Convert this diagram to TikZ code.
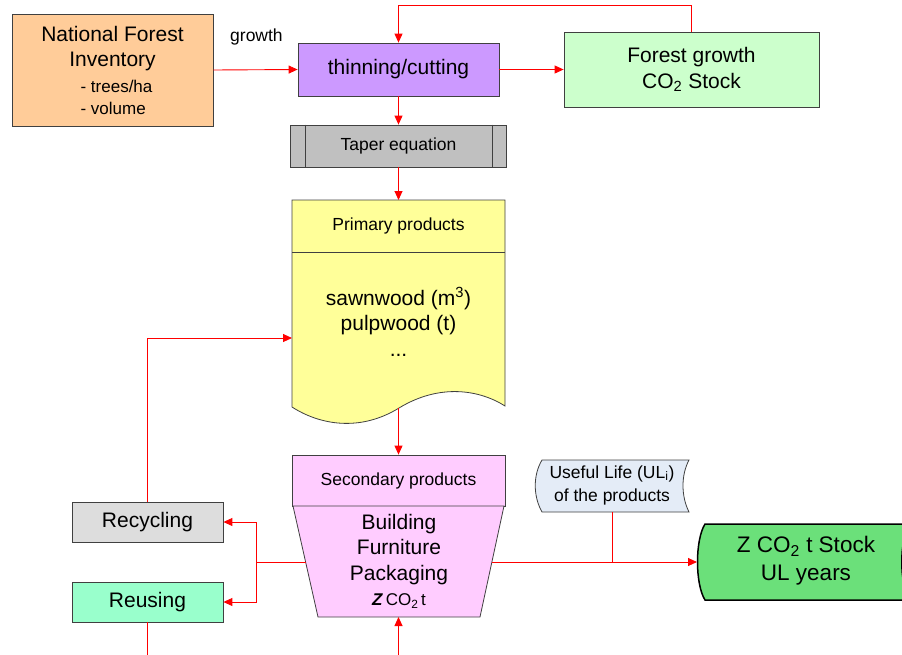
\documentclass[tikz,border=0pt]{standalone}
\usepackage{fontspec}
\setmainfont{Liberation Sans}
\usetikzlibrary{arrows.meta}
\definecolor{boxline}{HTML}{404040}
\definecolor{nfiorange}{HTML}{FFCC99}
\definecolor{thinpurple}{HTML}{CC99FF}
\definecolor{forestgreen}{HTML}{CCFFCC}
\definecolor{tapergray}{HTML}{C0C0C0}
\definecolor{primyellow}{HTML}{FFFF99}
\definecolor{secpink}{HTML}{FFCCFF}
\definecolor{recgray}{HTML}{DDDDDD}
\definecolor{reusegreen}{HTML}{99FFCC}
\definecolor{ulblue}{HTML}{E4ECF7}
\definecolor{stockgreen}{HTML}{6BE07A}

\begin{document}
\begin{tikzpicture}[x=1pt,y=-1pt,
    box/.style={draw=boxline, line width=0.8pt, inner sep=0pt, align=center},
    big/.style={font=\fontsize{21}{25.5}\selectfont},
    small/.style={font=\fontsize{17.5}{21}\selectfont},
    line/.style={red, line width=0.9pt},
    flow/.style={line, -{Triangle[length=9pt,width=8pt]}}]
    \useasboundingbox (0,0) rectangle (902,654);

    % top row
    \node[box, fill=nfiorange, minimum width=201pt, minimum height=112pt] (nfi) at (112.5,70) {};
    \node[big, align=center] (nfitext) at (112.5,73.5)
        {National Forest\\Inventory\\[5pt]\hspace*{8pt}{\fontsize{17}{22}\selectfont\begin{tabular}{@{}l@{}}- trees/ha\\- volume\end{tabular}}};
    \node[small, anchor=base west, inner sep=0pt] (growthlbl) at (230,41) {growth};
    \node[box, big, fill=thinpurple, minimum width=201pt, minimum height=53pt] (thin) at (398.5,69.5) {thinning/cutting};
    \node[box, big, fill=forestgreen, minimum width=255pt, minimum height=75pt] (forest) at (691.5,69.5)
        {Forest growth\\CO\textsubscript{2} Stock};
    \node[box, small, fill=tapergray, minimum width=216pt, minimum height=42pt] (taper) at (398.5,146) {Taper equation};
    \draw[boxline, line width=0.8pt] ([xshift=15pt]taper.north west) -- ([xshift=15pt]taper.south west)
        ([xshift=-15pt]taper.north east) -- ([xshift=-15pt]taper.south east);

    % primary products (document)
    \draw[boxline, line width=0.8pt, fill=primyellow] (292,200) -- (505,200) -- (505,406)
        .. controls (480,390) and (440,383) .. (399,408)
        .. controls (360,432) and (320,425) .. (292,407) -- cycle;
    \draw[boxline, line width=0.8pt] (292,252) -- (505,252);
    \node[small] (primhead) at (398.5,226) {Primary products};
    \node[big, align=center] (primbody) at (398.5,322) {sawnwood (m\textsuperscript{3})\\pulpwood (t)\\...};
    \coordinate (primtop) at (398.5,200);
    \coordinate (primbot) at (398.5,408);
    \coordinate (primleft) at (292,338);

    % secondary products
    \node[box, small, fill=secpink, minimum width=213pt, minimum height=51pt] (sec) at (398.5,480.5) {Secondary products};
    \draw[boxline, line width=0.8pt, fill=secpink] (293,506) -- (504,506) -- (480,617) -- (318,617) -- cycle;
    \node[big, align=center] (secbody) at (399,561)
        {Building\\Furniture\\Packaging\\{\fontsize{17}{21}\selectfont\textbf{\textit{Z}}\,CO\textsubscript{2}\,t}};
    \coordinate (secleft) at (305.6,562);
    \coordinate (secright) at (491.9,562);
    \coordinate (secbot) at (398.5,617);
    \coordinate (bottomin) at (398.5,660);

    % recycling / reusing
    \node[box, big, fill=recgray, minimum width=151pt, minimum height=40pt] (recyc) at (147.5,522) {Recycling};
    \node[box, big, fill=reusegreen, minimum width=151pt, minimum height=40pt] (reuse) at (147.5,602) {Reusing};
    \coordinate (split) at (256,562);
    \coordinate (reuseout) at (147.5,660);

    % useful life and stock
    \draw[boxline, line width=0.8pt, fill=ulblue] (542,460) -- (689,460)
        .. controls (681,475) and (681,496) .. (689,512) -- (542,512)
        .. controls (533,496) and (533,475) .. (542,460) -- cycle;
    \node[align=center, font=\fontsize{17.5}{23}\selectfont] (ul) at (612,485) {Useful Life (UL\textsubscript{i})\\of the products};
    \coordinate (ulbot) at (612,512);
    \draw[black, line width=1.5pt, fill=stockgreen] (705,524) -- (910,524)
        .. controls (899,540) and (899,584) .. (910,600) -- (705,600)
        .. controls (695,584) and (695,540) .. (705,524) -- cycle;
    \node[align=center, font=\fontsize{22.5}{28}\selectfont] (stock) at (806,561) {Z CO\textsubscript{2} t Stock\\UL years};
    \coordinate (stockleft) at (697,562);

    % connectors
    \draw[flow] (nfi.east) -- (thin.west);
    \draw[flow] (thin.east) -- (forest.west);
    \draw[flow] (forest.north) -- ++(0,-26) -| (thin.north);
    \draw[flow] (thin.south) -- (taper.north);
    \draw[flow] (taper.south) -- (primtop);
    \draw[flow] (primbot) -- (sec.north);
    \draw[flow] (bottomin) -- (secbot);
    \draw[line] (secleft) -- (split);
    \draw[flow] (split) |- (recyc.east);
    \draw[flow] (split) |- (reuse.east);
    \draw[flow] (recyc.north) |- (primleft);
    \draw[line] (reuse.south) -- (reuseout);
    \draw[flow] (secright) -- (stockleft);
    \draw[line] (ulbot) -- (ulbot |- secright);
\end{tikzpicture}
\end{document}
